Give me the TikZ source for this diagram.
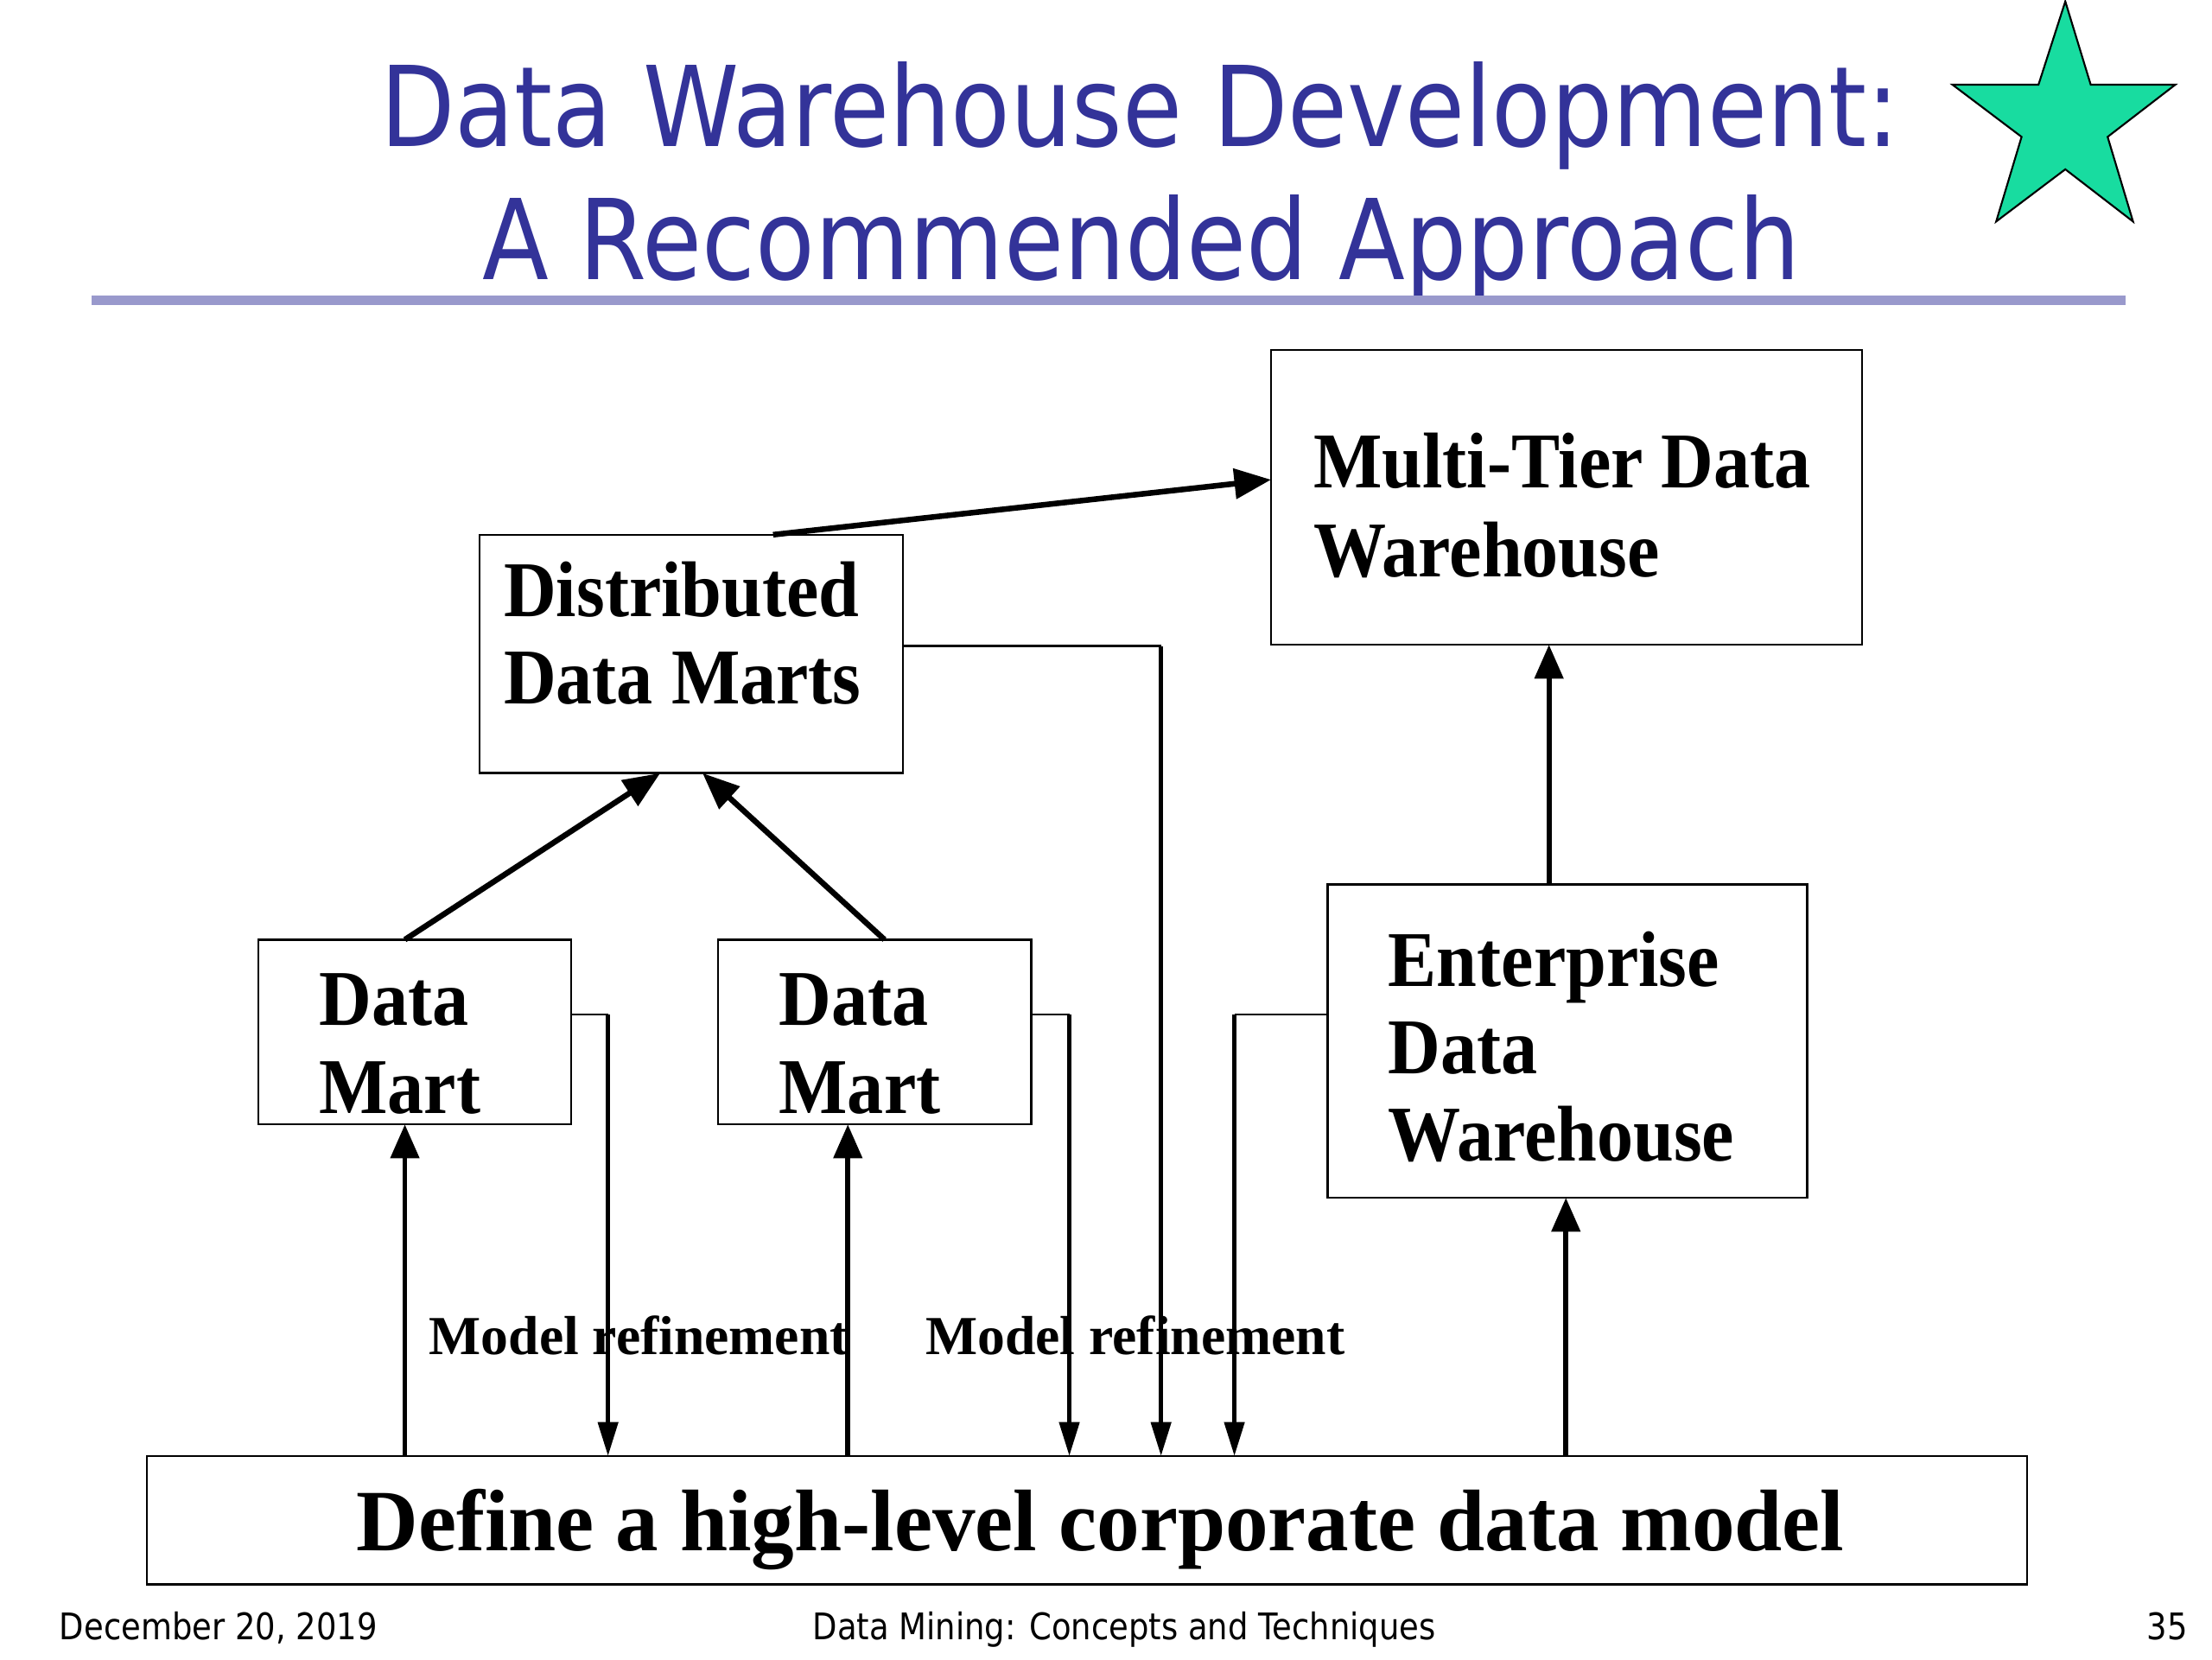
\documentclass[tikz,border=0pt]{standalone}
\usepackage{fontspec}
\setmainfont{Liberation Serif}
\newfontfamily\titlefont{DejaVu Sans}[FakeStretch=0.871]
\newfontfamily\footfont{DejaVu Sans}[FakeStretch=0.87]
\newfontfamily\boxfont{Liberation Serif}[FakeStretch=0.92]
\newfontfamily\basefont{Liberation Serif}[FakeStretch=0.98]
\usetikzlibrary{arrows.meta,calc}
\definecolor{titleblue}{RGB}{51,51,153}
\definecolor{rulecol}{RGB}{153,153,204}
\definecolor{starcol}{RGB}{24,220,160}
\begin{document}
\begin{tikzpicture}[x=1pt,y=-1pt,
  box/.style={draw=black,line width=1.5pt,inner sep=0pt,outer sep=0pt,anchor=north west},
  btxt/.style={inner sep=0pt,anchor=base west,font=\boxfont\bfseries\fontsize{56}{62}\selectfont},
  ttl/.style={inner sep=0pt,anchor=base,text=titleblue,font=\titlefont\fontsize{79}{90}\selectfont},
  foot/.style={inner sep=0pt,font=\footfont\fontsize{26}{30}\selectfont},
  uparr/.style={line width=3.5pt,-{Triangle[length=24pt,width=20pt]}},
  diagarr/.style={line width=4pt,-{Triangle[length=26pt,width=21pt]}},
  downarr/.style={line width=3pt,-{Triangle[length=24pt,width=14pt]}},
  stub/.style={line width=1.6pt}]
\useasboundingbox (0,0) rectangle (1568,1176);
\fill[white] (0,0) rectangle (1568,1176);

% title
\node[ttl] (t1) at (808,104) {Data Warehouse Development:};
\node[ttl] (t2) at (809,198) {A Recommended Approach};
\draw[rulecol,line width=7pt] (65,213) -- (1507,213);

% star
\filldraw[fill=starcol,draw=black,line width=1.3pt,line join=miter]
  (1464,1) -- (1482,60) -- (1542,60) -- (1494,97) -- (1512,157)
  -- (1464,120) -- (1415,157) -- (1433,97) -- (1384,60) -- (1445,60) -- cycle;

% boxes
\node[box,minimum width=419pt,minimum height=209pt] (mtdw) at (901,248) {};
\node[box,minimum width=300pt,minimum height=169pt] (ddm) at (340,379) {};
\node[box,minimum width=222pt,minimum height=131pt] (dm1) at (183,666) {};
\node[box,minimum width=222pt,minimum height=131pt] (dm2) at (509,666) {};
\node[box,minimum width=340pt,minimum height=222pt] (edw) at (941,627) {};
\node[box,minimum width=1333pt,minimum height=91pt] (base) at (104,1032) {};

% box texts
\node[btxt] (mtdw1) at (931,346) {Multi-Tier Data};
\node[btxt] (mtdw2) at (931,409) {Warehouse};
\node[btxt] (ddm1) at (357,437) {Distributed};
\node[btxt] (ddm2) at (357,499) {Data Marts};
\node[btxt] (dma1) at (226,727) {Data};
\node[btxt] (dma2) at (226,789) {Mart};
\node[btxt] (dmb1) at (552,727) {Data};
\node[btxt] (dmb2) at (552,789) {Mart};
\node[btxt] (edw1) at (984,699) {Enterprise};
\node[btxt] (edw2) at (984,761) {Data};
\node[btxt] (edw3) at (984,823) {Warehouse};
\node[inner sep=0pt,anchor=base,font=\basefont\bfseries\fontsize{62}{70}\selectfont] (basetxt) at (780,1099) {Define a high-level corporate data model};

% labels
\node[inner sep=0pt,anchor=base west,font=\bfseries\fontsize{39}{44}\selectfont] (mr1) at (304,960) {Model refinement};
\node[inner sep=0pt,anchor=base west,font=\bfseries\fontsize{39}{44}\selectfont] (mr2) at (656,960) {Model refinement};

% attachment points
\coordinate (pA) at ($(ddm.north)+(58,0)$);
\coordinate (pB) at ($(mtdw.west)+(0,-12.5)$);
\coordinate (pC) at ($(dm1.north)+(-7,0)$);
\coordinate (pD) at ($(ddm.south)+(-22,0)$);
\coordinate (pE) at ($(dm2.north)+(7,0)$);
\coordinate (pF) at ($(ddm.south)+(8,0)$);
\coordinate (pG) at ($(edw.north)+(-13,0)$);
\coordinate (pH) at ($(dm1.south)+(-7,0)$);
\coordinate (pI) at ($(dm2.south)+(-19,0)$);
\coordinate (pJ) at ($(edw.south)+(-1,0)$);
\coordinate (s1) at ($(dm1.east)+(0,-12.5)$);
\coordinate (k1) at ($(s1)+(26,0)$);
\coordinate (s2) at ($(dm2.east)+(0,-12.5)$);
\coordinate (k2) at ($(s2)+(27,0)$);
\coordinate (s3) at ($(ddm.east)+(0,-5.5)$);
\coordinate (k3) at ($(s3)+(183,0)$);
\coordinate (s4) at ($(edw.west)+(0,-19)$);
\coordinate (k4) at ($(s4)+(-66,0)$);

% connectors
\draw[diagarr] (pA) -- (pB);
\draw[diagarr] (pC) -- (pD);
\draw[diagarr] (pE) -- (pF);
\draw[uparr] (pG) -- (pG |- mtdw.south);
\draw[uparr] (base.north -| pH) -- (pH);
\draw[uparr] (base.north -| pI) -- (pI);
\draw[uparr] (base.north -| pJ) -- (pJ);

\draw[stub] (s1) -- (k1);
\draw[downarr] (k1) -- (k1 |- base.north);
\draw[stub] (s2) -- (k2);
\draw[downarr] (k2) -- (k2 |- base.north);
\draw[stub] (s3) -- (k3);
\draw[downarr] (k3) -- (k3 |- base.north);
\draw[stub] (s4) -- (k4);
\draw[downarr] (k4) -- (k4 |- base.north);

% footer
\node[foot,anchor=base west] (fdate) at (42,1162) {December 20, 2019};
\node[foot,anchor=base] (fmid) at (797,1162) {Data Mining: Concepts and Techniques};
\node[foot,anchor=base east] (fnum) at (1551,1162) {35};
\end{tikzpicture}
\end{document}
